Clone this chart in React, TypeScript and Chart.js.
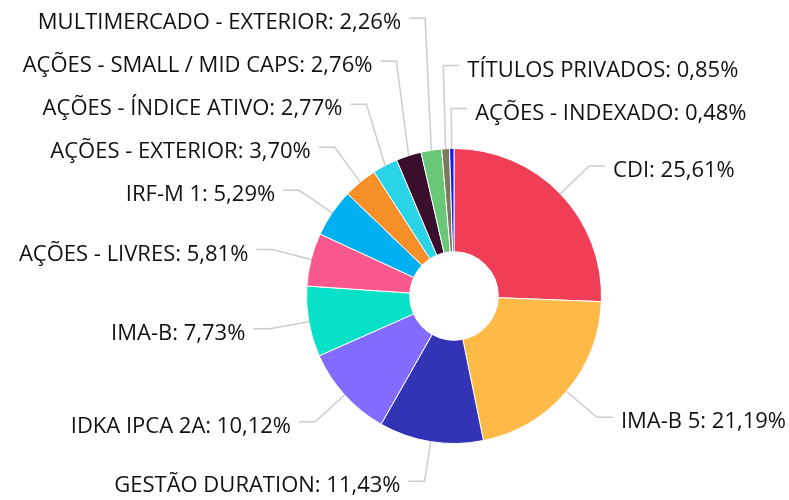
import React, { useEffect, useRef } from 'react';
import { Chart, registerables } from 'chart.js';

Chart.register(...registerables);

const categories = [
  'CDI',
  'IMA-B 5',
  'GESTÃO DURATION',
  'IDKA IPCA 2A',
  'IMA-B',
  'AÇÕES - LIVRES',
  'IRF-M 1',
  'AÇÕES - EXTERIOR',
  'AÇÕES - ÍNDICE ATIVO',
  'AÇÕES - SMALL / MID CAPS',
  'MULTIMERCADO - EXTERIOR',
  'TÍTULOS PRIVADOS',
  'AÇÕES - INDEXADO',
];

const values = [25.61, 21.19, 11.43, 10.12, 7.73, 5.81, 5.29, 3.7, 2.77, 2.76, 2.26, 0.85, 0.48];

const colors = [
  '#EF3E55',
  '#FFB946',
  '#3333B5',
  '#816CFF',
  '#09E0C8',
  '#F8588E',
  '#00B0F0',
  '#F78F28',
  '#29D4E6',
  '#3A0F2E',
  '#68C878',
  '#7B7A5C',
  '#1A1AF0',
];

const FONT = '22px "Open Sans", "Noto Sans", sans-serif';
const LABEL_DISTANCE = 40;
const SLOT = 43;
const SEGMENT = 16;
const TEXT_GAP = 8;

function fmt(v: number) {
  return v.toFixed(2).replace('.', ',') + '%';
}

const outsideLabels = {
  id: 'outsideLabels',
  afterDatasetsDraw(chart: any) {
    const ctx = chart.ctx as CanvasRenderingContext2D;
    const meta = chart.getDatasetMeta(0);
    const items = meta.data.map((arc: any, i: number) => {
      const p = arc.getProps(['x', 'y', 'startAngle', 'endAngle', 'outerRadius'], true);
      const mid = (p.startAngle + p.endAngle) / 2;
      const c = Math.cos(mid);
      const s = Math.sin(mid);
      const R = p.outerRadius + LABEL_DISTANCE;
      const right = c > -0.1;
      const fromTop = mid + Math.PI / 2;
      const order = right ? (fromTop > Math.PI ? fromTop - 2 * Math.PI : fromTop) : -fromTop;
      return {
        i,
        touchX: p.x + c * p.outerRadius,
        touchY: p.y + s * p.outerRadius,
        bendX: p.x + c * R,
        y: p.y + s * R,
        right,
        order,
      };
    });

    for (const side of [true, false]) {
      const list = items.filter((it: any) => it.right === side).sort((a: any, b: any) => a.order - b.order);
      for (let k = list.length - 2; k >= 0; k--) {
        list[k].y = Math.min(list[k].y, list[k + 1].y - SLOT);
      }
      if (list.length && list[0].y < 10) {
        list[0].y = 10;
        for (let k = 1; k < list.length; k++) list[k].y = Math.max(list[k].y, list[k - 1].y + SLOT);
      }
    }

    ctx.save();
    ctx.font = FONT;
    ctx.fillStyle = '#111111';
    ctx.strokeStyle = '#cccccc';
    ctx.lineWidth = 1.5;
    ctx.textBaseline = 'alphabetic';
    for (const it of items) {
      const dir = it.right ? 1 : -1;
      ctx.beginPath();
      ctx.moveTo(it.touchX, it.touchY);
      ctx.lineTo(it.bendX, it.y);
      ctx.lineTo(it.bendX + dir * SEGMENT, it.y);
      ctx.stroke();
      ctx.textAlign = it.right ? 'left' : 'right';
      const text = categories[it.i] + ': ' + fmt(values[it.i]);
      ctx.fillText(text, it.bendX + dir * (SEGMENT + TEXT_GAP), it.y + 11);
    }
    ctx.restore();
  },
};

export default function App() {
  const ref = useRef<HTMLCanvasElement | null>(null);

  useEffect(() => {
    document.body.style.margin = '0';
    const canvas = ref.current;
    if (!canvas) return;
    const chart = new Chart(canvas, {
      type: 'doughnut',
      data: {
        labels: categories,
        datasets: [
          {
            data: values,
            backgroundColor: colors,
            borderColor: '#ffffff',
            borderWidth: 1,
            hoverOffset: 0,
          },
        ],
      },
      options: {
        responsive: false,
        animation: false,
        events: [],
        cutout: '30%',
        layout: { padding: { left: 306, right: 187, top: 148, bottom: 56 } },
        plugins: {
          legend: { display: false },
          tooltip: { enabled: false },
          title: { display: false },
        },
      },
      plugins: [outsideLabels],
    });
    return () => chart.destroy();
  }, []);

  return (
    <div style={{ width: 789, height: 500, background: '#fff' }}>
      <canvas ref={ref} width={789} height={500} style={{ display: 'block' }} />
    </div>
  );
}
